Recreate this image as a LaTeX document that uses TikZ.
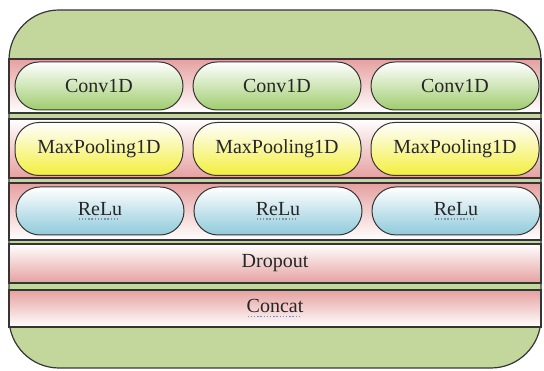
\documentclass[tikz,border=0pt]{standalone}
\usepackage{fontspec}
\setmainfont{Liberation Serif}
\usepackage{xcolor}
\usepackage{tikz}
\usetikzlibrary{positioning}
\definecolor{outergreen}{HTML}{C3D69B}
\definecolor{bandpink}{HTML}{E6A0A0}
\definecolor{convgreen}{HTML}{9FCC6E}
\definecolor{poolyellow}{HTML}{F3EE3C}
\definecolor{relublue}{HTML}{8FCADB}
\definecolor{edgegray}{HTML}{353535}
\definecolor{textgray}{HTML}{262626}
\definecolor{spellgray}{HTML}{8090A8}
\newsavebox{\spellbox}
\newcommand{\spellmark}[1]{\sbox{\spellbox}{#1}\rlap{\raisebox{-0.22em}{\color{spellgray}\hbox to \wd\spellbox{\leaders\hbox to 0.16em{\hss\rule{0.07em}{0.07em}\hss}\hfill}}}\usebox{\spellbox}}
\tikzstyle{frame} = [draw=edgegray,
	line width=1.2pt,
	rectangle,
	rounded corners=50pt,
	fill=outergreen,
	minimum width=532pt,
	minimum height=358pt
	]
\tikzstyle{band} = [draw=edgegray,
	line width=1.3pt,
	rectangle,
	minimum width=532pt,
	inner sep=0pt
	]
\tikzstyle{pill} = [draw=edgegray,
	line width=1pt,
	rectangle,
	rounded corners=24pt,
	top color=white,
	minimum width=168pt,
	minimum height=48pt,
	node distance=178pt,
	inner sep=0pt
	]

\begin{document}
\begin{tikzpicture}[x=1pt, y=1pt, font=\fontsize{20}{24}\selectfont, text=textgray]
\useasboundingbox (0,0) rectangle (544,371);
    \node [frame] (frame) at (275,182) {};

    \node [band, top color=bandpink, bottom color=white, minimum height=54pt] (convband) at (275,285) {};
    \node [band, top color=white, bottom color=bandpink, minimum height=59pt] (poolband) at (275,222.5) {};
    \node [band, top color=bandpink, bottom color=white, minimum height=57pt] (reluband) at (275,159.5) {};
    \node [band, top color=white, bottom color=bandpink, minimum height=39pt] (dropband) at (275,107.5) {Dropout};
    \node [band, top color=bandpink, bottom color=white, minimum height=37pt] (concatband) at (275,62.5) {\spellmark{Concat}};

    \node [pill, bottom color=convgreen] (conv1) at (99,285) {Conv1D};
    \node [pill, bottom color=convgreen, right of=conv1] (conv2) {Conv1D};
    \node [pill, bottom color=convgreen, right of=conv2] (conv3) {Conv1D};

    \node [pill, bottom color=poolyellow, minimum height=53pt] (pool1) at (99,222) {MaxPooling1D};
    \node [pill, bottom color=poolyellow, minimum height=53pt, right of=pool1] (pool2) {MaxPooling1D};
    \node [pill, bottom color=poolyellow, minimum height=53pt, right of=pool2] (pool3) {MaxPooling1D};

    \node [pill, bottom color=relublue] (relu1) at (100,160) {\spellmark{ReLu}};
    \node [pill, bottom color=relublue, right of=relu1] (relu2) {\spellmark{ReLu}};
    \node [pill, bottom color=relublue, right of=relu2] (relu3) {\spellmark{ReLu}};
\end{tikzpicture}
\end{document}
